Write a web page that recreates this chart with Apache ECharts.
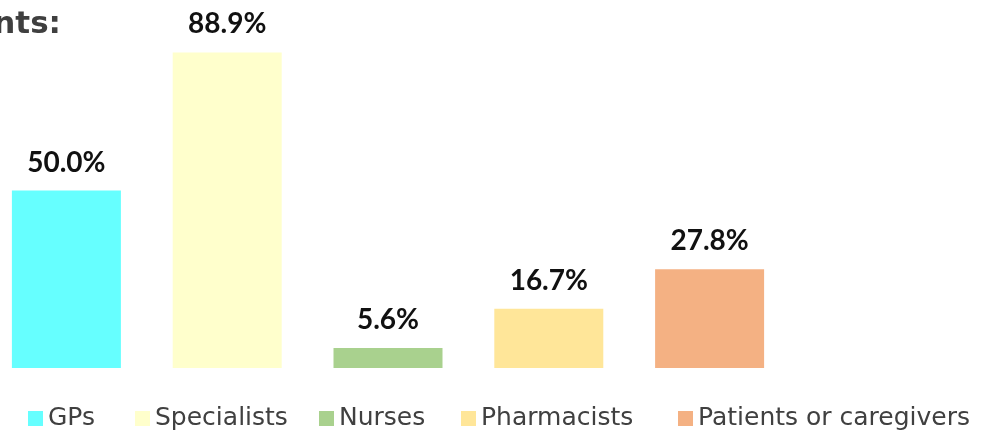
<!DOCTYPE html>
<html>
<head>
<meta charset="utf-8">
<script src="https://cdn.jsdelivr.net/npm/echarts@6/dist/echarts.min.js"></script>
<style>
  html, body { margin: 0; padding: 0; background: #fff; }
  #chart { width: 994px; height: 433px; }
</style>
</head>
<body>
<div id="chart"></div>
<script>
const categories = ['GPs', 'Specialists', 'Nurses', 'Pharmacists', 'Patients or caregivers']
const values = [50.0, 88.9, 5.6, 16.7, 27.8]
const colors = ['#66ffff', '#ffffcc', '#a9d18e', '#ffe699', '#f4b183']
// left edge of each legend square, as in the reference
const legendLeft = [28, 135, 319, 461, 678]

const chart = echarts.init(document.getElementById('chart'))

const series = categories.map((name, i) => ({
  name,
  type: 'bar',
  stack: 'all',
  barWidth: 109,
  itemStyle: { color: colors[i] },
  data: categories.map((c, j) => (j === i ? values[i] : '-')),
  label: {
    show: true,
    position: 'top',
    distance: 14,
    formatter: p => p.value.toFixed(1) + '%',
    fontFamily: 'Lato',
    fontWeight: 'bold',
    fontSize: 28,
    color: '#111'
  }
}))

chart.setOption({
  animation: false,
  graphic: [{
    type: 'text',
    right: 933,
    top: 9,
    style: {
      text: 'Respondents:',
      font: 'bold 31px "DejaVu Sans"',
      fill: '#3f3f3f'
    }
  }],
  grid: { left: -14, width: 804, top: 13, bottom: 65, outerBoundsMode: 'none' },
  xAxis: {
    type: 'category',
    data: categories,
    show: false
  },
  yAxis: { type: 'value', min: 0, max: 100, show: false },
  legend: categories.map((name, i) => ({
    left: legendLeft[i],
    top: 406,
    padding: 0,
    icon: 'rect',
    itemWidth: 15,
    itemHeight: 15,
    data: [name],
    textStyle: { fontFamily: 'DejaVu Sans', fontSize: 25, color: '#404040' }
  })),
  series
})
</script>
</body>
</html>
